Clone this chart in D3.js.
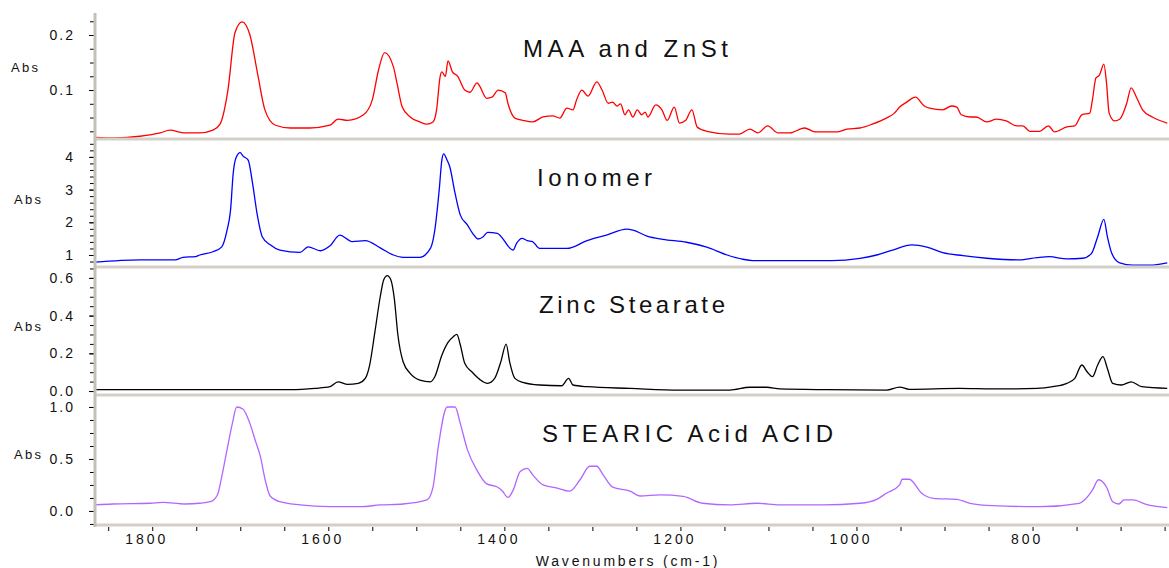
<!DOCTYPE html>
<html>
<head>
<meta charset="utf-8">
<script src="https://cdn.jsdelivr.net/npm/d3@7"></script>
<style>
body { margin: 0; background: #fff; }
text { font-family: "Liberation Sans", Arial, sans-serif; fill: #111; }
</style>
</head>
<body>
<div id="chart"></div>
<script>
// spectra: [wavenumber, absorbance]
var maaZnSt = [[1865,0.014],[1842,0.013],[1814,0.016],[1791,0.022],[1780,0.027],[1763,0.022],[1746,0.022],[1731,0.027],[1723,0.038],[1714,0.100],[1706,0.204],[1698,0.224],[1689,0.200],[1680,0.127],[1672,0.064],[1660,0.036],[1643,0.031],[1621,0.031],[1598,0.036],[1589,0.047],[1578,0.045],[1560,0.055],[1550,0.082],[1543,0.136],[1536,0.168],[1526,0.142],[1522,0.113],[1516,0.069],[1507,0.051],[1496,0.042],[1488,0.038],[1481,0.042],[1477,0.064],[1473,0.124],[1471,0.133],[1467,0.125],[1464,0.153],[1459,0.133],[1453,0.125],[1445,0.100],[1439,0.096],[1431,0.113],[1428,0.107],[1420,0.085],[1414,0.087],[1407,0.100],[1399,0.095],[1396,0.076],[1388,0.049],[1379,0.045],[1368,0.042],[1356,0.051],[1345,0.053],[1337,0.049],[1329,0.067],[1322,0.064],[1318,0.082],[1312,0.100],[1305,0.089],[1295,0.115],[1289,0.100],[1282,0.076],[1277,0.078],[1272,0.071],[1268,0.075],[1263,0.055],[1259,0.064],[1254,0.051],[1249,0.064],[1244,0.055],[1240,0.060],[1237,0.051],[1228,0.073],[1221,0.064],[1215,0.045],[1207,0.069],[1201,0.040],[1194,0.045],[1187,0.064],[1181,0.033],[1170,0.025],[1144,0.020],[1133,0.020],[1121,0.029],[1112,0.022],[1101,0.035],[1089,0.022],[1076,0.022],[1059,0.031],[1047,0.024],[1021,0.024],[1011,0.029],[996,0.031],[982,0.038],[966,0.049],[957,0.058],[951,0.069],[943,0.078],[933,0.087],[923,0.071],[917,0.067],[902,0.064],[892,0.071],[886,0.069],[881,0.055],[871,0.051],[864,0.051],[852,0.042],[841,0.047],[830,0.044],[818,0.035],[811,0.035],[803,0.025],[792,0.025],[782,0.035],[775,0.024],[761,0.033],[752,0.035],[744,0.055],[735,0.058],[732,0.082],[728,0.122],[724,0.127],[719,0.147],[716,0.113],[713,0.058],[707,0.044],[701,0.047],[693,0.076],[688,0.104],[682,0.087],[675,0.064],[664,0.051],[647,0.040]];

var ionomer = [[1865,0.78],[1814,0.85],[1774,0.85],[1765,0.93],[1751,0.95],[1746,1.0],[1731,1.10],[1721,1.25],[1715,1.76],[1711,2.38],[1708,3.50],[1705,3.96],[1700,4.13],[1697,4.03],[1691,3.90],[1686,3.19],[1681,2.28],[1675,1.56],[1666,1.31],[1655,1.15],[1632,1.08],[1623,1.25],[1609,1.13],[1598,1.28],[1587,1.61],[1573,1.41],[1558,1.44],[1541,1.22],[1526,1.0],[1515,0.93],[1496,0.93],[1484,1.20],[1479,1.76],[1474,2.99],[1471,3.90],[1469,4.09],[1465,3.90],[1462,3.70],[1456,2.89],[1450,2.22],[1442,1.92],[1436,1.66],[1430,1.49],[1424,1.56],[1419,1.69],[1408,1.66],[1402,1.51],[1396,1.28],[1390,1.15],[1386,1.36],[1380,1.51],[1374,1.44],[1368,1.41],[1360,1.20],[1329,1.20],[1306,1.44],[1284,1.61],[1261,1.79],[1254,1.76],[1238,1.58],[1220,1.48],[1193,1.39],[1170,1.24],[1147,1.0],[1129,0.87],[1118,0.83],[1087,0.83],[1028,0.83],[996,0.90],[977,1.0],[959,1.15],[937,1.31],[920,1.24],[902,1.07],[879,0.98],[852,0.90],[815,0.85],[795,0.92],[781,0.95],[761,0.88],[743,0.90],[733,1.05],[726,1.56],[719,2.09],[715,1.56],[710,1.05],[701,0.76],[686,0.69],[667,0.69],[647,0.76]];

var zincStearate = [[1865,0.008],[1643,0.007],[1615,0.014],[1598,0.023],[1589,0.049],[1578,0.035],[1566,0.041],[1558,0.067],[1553,0.138],[1547,0.315],[1541,0.50],[1537,0.59],[1533,0.612],[1529,0.59],[1525,0.49],[1521,0.30],[1515,0.155],[1507,0.094],[1496,0.058],[1484,0.049],[1479,0.076],[1471,0.19],[1464,0.258],[1458,0.288],[1454,0.30],[1450,0.244],[1445,0.147],[1437,0.102],[1428,0.062],[1419,0.041],[1411,0.067],[1404,0.155],[1398,0.249],[1394,0.155],[1388,0.067],[1379,0.046],[1360,0.032],[1335,0.028],[1327,0.067],[1322,0.032],[1306,0.023],[1257,0.014],[1201,0.005],[1144,0.005],[1121,0.020],[1102,0.020],[1087,0.011],[1034,0.007],[966,0.005],[951,0.021],[940,0.009],[883,0.014],[845,0.011],[795,0.014],[777,0.023],[761,0.041],[752,0.067],[744,0.138],[738,0.102],[732,0.076],[726,0.138],[720,0.182],[715,0.120],[709,0.041],[699,0.032],[688,0.049],[676,0.023],[647,0.014]];

var stearicAcid = [[1865,0.058],[1845,0.067],[1802,0.074],[1788,0.083],[1763,0.067],[1746,0.074],[1734,0.089],[1726,0.154],[1721,0.33],[1715,0.59],[1709,0.84],[1704,1.0],[1697,0.98],[1689,0.84],[1683,0.68],[1677,0.52],[1672,0.31],[1666,0.144],[1655,0.089],[1632,0.058],[1598,0.041],[1564,0.041],[1541,0.058],[1515,0.067],[1488,0.106],[1481,0.23],[1475,0.62],[1465,1.0],[1456,1.0],[1450,0.84],[1442,0.59],[1431,0.39],[1420,0.26],[1408,0.23],[1402,0.19],[1396,0.13],[1390,0.20],[1382,0.38],[1374,0.41],[1368,0.35],[1356,0.25],[1340,0.22],[1326,0.19],[1314,0.30],[1303,0.43],[1295,0.43],[1288,0.35],[1277,0.23],[1257,0.19],[1246,0.144],[1223,0.154],[1197,0.14],[1175,0.074],[1144,0.058],[1113,0.074],[1087,0.058],[1038,0.058],[996,0.074],[977,0.112],[966,0.17],[951,0.25],[948,0.305],[940,0.305],[926,0.17],[913,0.122],[886,0.112],[871,0.074],[845,0.051],[792,0.041],[747,0.074],[741,0.106],[732,0.20],[725,0.30],[716,0.23],[709,0.089],[702,0.067],[696,0.106],[686,0.106],[671,0.064],[647,0.032]];

var spectra = [maaZnSt, ionomer, zincStearate, stearicAcid];
var titles = ["MAA and ZnSt", "Ionomer", "Zinc Stearate", "STEARIC Acid ACID"];
var colors = ["#ff0000", "#0000ff", "#000000", "#b366ff"];

var xDomain = [1865, 645];
var xTickLabels = [1800, 1600, 1400, 1200, 1000, 800];
var yDomains = [[0.011, 0.24], [0.633, 4.486], [-0.021, 0.6525], [-0.135, 1.096]];
var yMajorTicks = [[0.1, 0.2], [1, 2, 3, 4], [0.0, 0.2, 0.4, 0.6], [0.0, 0.5, 1.0]];
var yMinorStep = [0.025, 0.2, 0.05, 0.125];

// layout
var svgWidth = 1169, svgHeight = 568;
var axisX = 95;
var panelTop = [13, 141, 268, 397];
var panelBottom = [139, 267, 395, 525];
var absX = [11, 14, 14, 14];
var absY = [72, 204, 331, 459];
var titleX = [523, 537, 539, 542];
var titleY = [57, 186, 313, 442];
var titleW = [205, 115, 186, 291];
var grey = "#d4d0c8";

var svg = d3.select("#chart").append("svg").attr("width", svgWidth).attr("height", svgHeight);

var x = d3.scaleLinear().domain(xDomain).range([axisX, svgWidth]);

var line = d3.line().curve(d3.curveMonotoneX);

spectra.forEach(function(data, i) {
    var y = d3.scaleLinear().domain(yDomains[i]).range([panelBottom[i], panelTop[i]]);

    svg.append("clipPath").attr("id", "clip" + i)
        .append("rect").attr("x", axisX).attr("y", panelTop[i])
        .attr("width", svgWidth - axisX).attr("height", panelBottom[i] - panelTop[i]);

    svg.append("path")
        .datum(data)
        .attr("clip-path", "url(#clip" + i + ")")
        .attr("fill", "none")
        .attr("stroke", colors[i])
        .attr("stroke-width", 1.3)
        .attr("d", line.x(d => x(d[0])).y(d => y(d[1])));

    // minor ticks
    var step = yMinorStep[i];
    var minor = d3.range(Math.ceil(yDomains[i][0] / step - 1e-6), Math.floor(yDomains[i][1] / step + 1e-6) + 1).map(k => k * step);
    var minorAxis = svg.append("g").attr("transform", `translate(${axisX - 1},0)`)
        .call(d3.axisLeft(y).tickValues(minor).tickSize(4).tickFormat(""));
    minorAxis.select(".domain").remove();

    var fmt = i == 1 ? d3.format("d") : d3.format(".1f");
    var majorAxis = svg.append("g").attr("transform", `translate(${axisX - 1},0)`)
        .call(d3.axisLeft(y).tickValues(yMajorTicks[i]).tickSize(5).tickPadding(14).tickFormat(fmt));
    majorAxis.select(".domain").remove();
    majorAxis.selectAll("text")
        .attr("font-family", "Liberation Sans, Arial, sans-serif")
        .attr("font-size", 14)
        .attr("letter-spacing", "2px")
        .attr("fill", "#111");

    // panel separator
    svg.append("line")
        .attr("x1", axisX).attr("x2", svgWidth)
        .attr("y1", panelBottom[i]).attr("y2", panelBottom[i])
        .attr("stroke", grey).attr("stroke-width", 3);

    svg.append("text")
        .attr("x", absX[i]).attr("y", absY[i])
        .attr("font-size", 13)
        .attr("letter-spacing", "2.3px")
        .text("Abs");

    svg.append("text")
        .attr("x", titleX[i]).attr("y", titleY[i])
        .attr("font-size", 24)
        .attr("textLength", titleW[i])
        .attr("lengthAdjust", "spacing")
        .text(titles[i]);
});

// left axis bar
svg.append("line")
    .attr("x1", axisX).attr("x2", axisX)
    .attr("y1", panelTop[0]).attr("y2", panelBottom[3] + 2)
    .attr("stroke", "#c4c0b8").attr("stroke-width", 3);

// bottom axis
var bottomAxis = svg.append("g").attr("transform", `translate(0,${panelBottom[3] + 2})`)
    .call(d3.axisBottom(x).tickValues(d3.range(650, 1851, 50)).tickSize(4).tickPadding(3)
        .tickFormat(d => xTickLabels.indexOf(d) >= 0 ? d : ""));
bottomAxis.select(".domain").remove();
bottomAxis.selectAll("text")
    .attr("font-family", "Liberation Sans, Arial, sans-serif")
    .attr("font-size", 14)
    .attr("letter-spacing", "3px")
    .attr("dx", -6)
    .attr("fill", "#111");

svg.append("text")
    .attr("x", 628).attr("y", 566)
    .attr("text-anchor", "middle")
    .attr("font-size", 14)
    .attr("letter-spacing", "2.8px")
    .text("Wavenumbers (cm-1)");
</script>
</body>
</html>
